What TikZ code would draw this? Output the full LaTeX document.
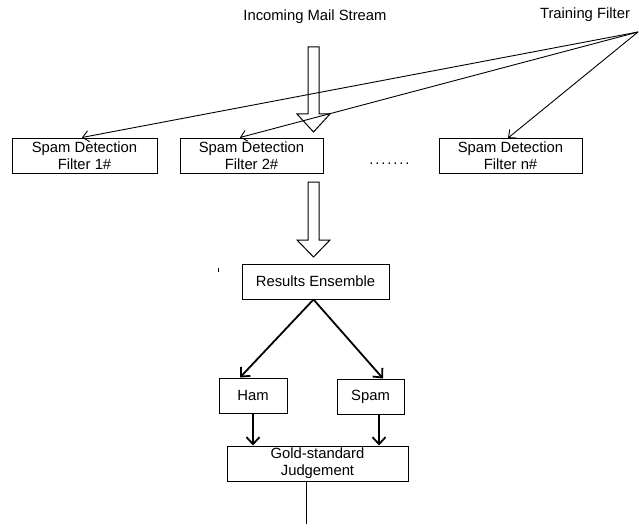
\documentclass[tikz,border=0pt]{standalone}
\usepackage{fontspec}
\setmainfont{Liberation Sans}
\usetikzlibrary{positioning, arrows.meta}

\begin{document}
\begin{tikzpicture}[
    x=1pt, y=1pt,
    font=\fontsize{14.8}{17}\selectfont,
    block/.style={rectangle, draw, line width=1pt, align=center, inner sep=0pt, minimum width=143pt, minimum height=35pt},
    small/.style={block, minimum width=68pt},
    thinarrow/.style={line width=0.9pt, -{Straight Barb[length=6pt, width=11pt]}},
    arrow/.style={line width=1.8pt, -{Straight Barb[length=7pt, width=13pt]}},
    hollow/.style={line width=1pt, fill=white}
    ]
    \useasboundingbox (0,0) rectangle (639,-524);

    % labels at the top
    \node (incoming) at (315,-17) {Incoming Mail Stream};
    \node (training) at (585,-15) {Training Filter};
    \coordinate (trainpt) at (638,-32);

    % filters
    \node[block, minimum width=145pt] (filter1) at (84.5,-155.5) {Spam Detection\\Filter 1\#};
    \node[block] (filter2) [right=22pt of filter1] {Spam Detection\\Filter 2\#};
    \node[anchor=base] (dots) at (389.5,-164) {.\kern1.9pt.\kern1.9pt.\kern1.9pt.\kern1.9pt.\kern1.9pt.\kern1.9pt.};
    \node[block] (filtern) at (510.5,-156) {Spam Detection\\Filter n\#};

    % ensemble and outcome
    \node[block, minimum width=147pt] (ensemble) at (315.5,-281.5) {Results Ensemble};
    \node[small] (ham) at (253,-395.5) {Ham};
    \node[small, minimum width=67pt] (spam) at (370.5,-396.5) {Spam};
    \node[block, minimum width=181pt] (gold) at (317.5,-463.5) {Gold-standard\\Judgement};
    \coordinate (out) at (306,-524);

    % hollow arrows
    \draw[hollow] (308,-47) -- (308,-114) -- (297,-114) -- (313.5,-132) -- (330,-114) -- (319,-114) -- (319,-47) -- cycle;
    \draw[hollow] (308,-182) -- (308,-240) -- (297,-240) -- (313.5,-257) -- (330,-240) -- (319,-240) -- (319,-182) -- cycle;

    \draw[line width=0.8pt] (218,-268) -- (218,-271.5);

    % training filter lines
    \draw[thinarrow] (trainpt) -- ([xshift=-2.5pt]filter1.north);
    \draw[thinarrow] (trainpt) -- ([xshift=-11.5pt]filter2.north);
    \draw[thinarrow] (trainpt) -- ([xshift=-2.5pt]filtern.north);

    \draw[arrow] ([xshift=-2pt]ensemble.south) -- ([xshift=-13pt]ham.north);
    \draw[arrow] ([xshift=-2pt]ensemble.south) -- ([xshift=12.5pt]spam.north);
    \draw[arrow] (ham.south) -- (ham.south |- gold.north);
    \draw[arrow] ([xshift=8.5pt]spam.south) -- ([xshift=8.5pt]spam.south |- gold.north);
    \draw[line width=1pt] ([xshift=-11.5pt]gold.south) -- (out);

  \end{tikzpicture}
\end{document}
